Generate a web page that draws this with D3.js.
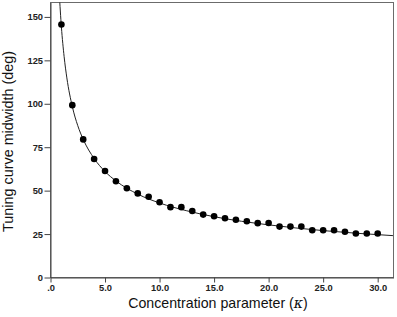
<!DOCTYPE html>
<html><head><meta charset="utf-8">
<script src="https://cdn.jsdelivr.net/npm/d3@7"></script>
<style>body{margin:0;background:#fff;} svg{display:block;}</style>
</head><body>
<svg id="c" width="397" height="317"></svg>
<script>
const kappa = [1,2,3,4,5,6,7,8,9,10,11,12,13,14,15,16,17,18,19,20,21,22,23,24,25,26,27,28,29,30];
const midwidth = [145.6,99.2,79.5,68.2,61.3,55.4,51.4,48.4,46.5,43.3,40.5,40.5,38.3,36.2,35.3,34.1,33.2,32.4,31.3,31.4,29.3,29.3,29.3,27.2,27.2,27.2,26.3,25.3,25.3,25.3];
const curveK = [0.75,0.8,0.9,1,1.25,1.5,2,2.5,3,4,5,6,8,10,12.5,15,20,25,31.4];
const curveY = [171.3,164.6,153.4,144.2,127.1,114.9,98.4,87.4,79.5,68.5,61.0,55.6,48.0,42.9,38.4,35.0,30.3,27.0,24.1];
const xTicks = [0,5,10,15,20,25,30];
const xTickLabels = [".0","5.0","10.0","15.0","20.0","25.0","30.0"];
const yTicks = [0,25,50,75,100,125,150];
const xTitle = "Concentration parameter (";
const yTitle = "Tuning curve midwidth (deg)";

const svg = d3.select("#c");
const L=50.5, R=393.5, T=2.5, B=277.5;
const x = d3.scaleLinear().domain([0,31.45]).range([L,R]);
const y = d3.scaleLinear().domain([0,158.3]).range([B,T]);
const font = "'Liberation Sans', Arial, sans-serif";

svg.append("clipPath").attr("id","cp").append("rect").attr("x",L).attr("y",T).attr("width",R-L).attr("height",B-T);

// frame
svg.append("rect").attr("x",L).attr("y",T).attr("width",R-L).attr("height",B-T)
  .attr("fill","none").attr("stroke","#6b6b6b").attr("stroke-width",1);

// curve
svg.append("path").datum(curveK.map((k,i)=>[k,curveY[i]]))
  .attr("clip-path","url(#cp)")
  .attr("d", d3.line().x(d=>x(d[0])).y(d=>y(d[1])).curve(d3.curveMonotoneX))
  .attr("fill","none").attr("stroke","#222").attr("stroke-width",1);

// points
svg.append("g").selectAll("circle").data(kappa).join("circle")
  .attr("cx",(d)=>x(d)).attr("cy",(d,i)=>y(midwidth[i])).attr("r",3.3).attr("fill","#000");

// axes
const xa = svg.append("g").attr("transform",`translate(0,${B})`)
  .call(d3.axisBottom(x).tickValues(xTicks).tickFormat((d,i)=>xTickLabels[i]).tickSize(5).tickSizeOuter(0));
const ya = svg.append("g").attr("transform",`translate(${L},0)`)
  .call(d3.axisLeft(y).tickValues(yTicks).tickSize(6).tickSizeOuter(0));
[xa,ya].forEach(a=>{
  a.select(".domain").attr("stroke","#444");
  a.selectAll(".tick line").attr("stroke","#444");
  a.selectAll("text").attr("font-family",font).attr("font-size",9.3).attr("font-weight","bold").attr("fill","#222");
});
xa.selectAll("text").attr("y",13.2).attr("dy","0");
ya.selectAll("text").attr("x",-7.5);

// titles
const xt = svg.append("text").attr("x",218).attr("y",308.3).attr("text-anchor","middle")
  .attr("font-family",font).attr("font-size",14.2).attr("fill","#111");
xt.append("tspan").text(xTitle);
xt.append("tspan").attr("font-family","'DejaVu Serif', serif").attr("font-style","italic").text("κ");
xt.append("tspan").text(")");

svg.append("text").attr("transform",`translate(12.8,141.5) rotate(-90)`).attr("text-anchor","middle")
  .attr("font-family",font).attr("font-size",14.4).attr("fill","#111").text(yTitle);
</script>
</body></html>
